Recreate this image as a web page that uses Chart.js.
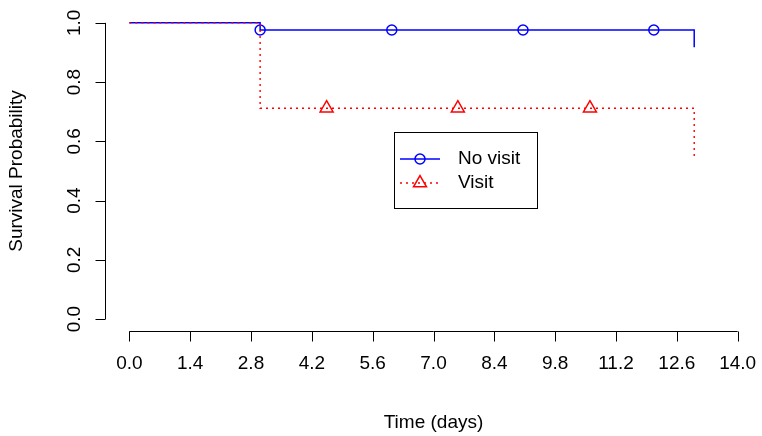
<!DOCTYPE html>
<html>
<head>
<meta charset="utf-8">
<script src="https://cdn.jsdelivr.net/npm/chart.js@4.4.1/dist/chart.umd.min.js"></script>
<style>
  html, body { margin: 0; padding: 0; background: #fff; }
  #wrap { width: 762px; height: 436px; }
</style>
</head>
<body>
<div id="wrap"><canvas id="grafico" width="762" height="436"></canvas></div>
<script>
// Dados (curvas de Kaplan-Meier)
const noVisitTimes = [0, 3.01, 13];
const noVisitSurv = [1, 0.976, 0.918];
const noVisitCensorTimes = [3.01, 6.04, 9.06, 12.07];
const noVisitCensorSurv = [0.976, 0.976, 0.976, 0.976];

const visitTimes = [0, 3.01, 13];
const visitSurv = [1, 0.712, 0.545];
const visitCensorTimes = [4.54, 7.56, 10.6];
const visitCensorSurv = [0.712, 0.712, 0.712];

const xTicks = [0, 1.4, 2.8, 4.2, 5.6, 7.0, 8.4, 9.8, 11.2, 12.6, 14.0];
const yTicks = [0, 0.2, 0.4, 0.6, 0.8, 1.0];
const seriesNames = ['No visit', 'Visit'];

const BLUE = '#0000ff';
const RED = '#ff0000';
const FONT = '19px "Liberation Sans", Arial, sans-serif';

function pares(xs, ys) {
  return xs.map((x, i) => ({ x: x, y: ys[i] }));
}

// Eixos, rótulos e legenda no estilo R base
const eixosR = {
  id: 'eixosR',
  afterDraw(chart) {
    const ctx = chart.ctx;
    const sx = chart.scales.x;
    const sy = chart.scales.y;
    const area = chart.chartArea;
    ctx.save();
    ctx.strokeStyle = '#000';
    ctx.fillStyle = '#000';
    ctx.lineWidth = 1;
    ctx.font = FONT;

    // eixo x
    const yAx = Math.round(area.bottom) + 0.5;
    ctx.beginPath();
    ctx.moveTo(sx.getPixelForValue(xTicks[0]), yAx);
    ctx.lineTo(sx.getPixelForValue(xTicks[xTicks.length - 1]), yAx);
    xTicks.forEach(t => {
      const px = Math.round(sx.getPixelForValue(t)) + 0.5;
      ctx.moveTo(px, yAx);
      ctx.lineTo(px, yAx + 10);
    });
    ctx.stroke();
    ctx.textAlign = 'center';
    ctx.textBaseline = 'middle';
    xTicks.forEach(t => {
      ctx.fillText(t.toFixed(1), sx.getPixelForValue(t), yAx + 32);
    });
    ctx.fillText('Time (days)', (area.left + area.right) / 2, 423);

    // eixo y
    const xAx = Math.round(area.left) + 0.5;
    ctx.beginPath();
    ctx.moveTo(xAx, sy.getPixelForValue(yTicks[0]));
    ctx.lineTo(xAx, sy.getPixelForValue(yTicks[yTicks.length - 1]));
    yTicks.forEach(t => {
      const py = Math.round(sy.getPixelForValue(t)) + 0.5;
      ctx.moveTo(xAx, py);
      ctx.lineTo(xAx - 10, py);
    });
    ctx.stroke();
    yTicks.forEach(t => {
      ctx.save();
      ctx.translate(75, sy.getPixelForValue(t));
      ctx.rotate(-Math.PI / 2);
      ctx.fillText(t.toFixed(1), 0, 0);
      ctx.restore();
    });
    ctx.save();
    ctx.translate(17, (area.top + area.bottom) / 2);
    ctx.rotate(-Math.PI / 2);
    ctx.fillText('Survival Probability', 0, 0);
    ctx.restore();

    // legenda
    ctx.strokeRect(394.5, 132.5, 143, 76);
    const linhas = [
      { y: 159, cor: BLUE, dash: [], estilo: 'circle' },
      { y: 183, cor: RED, dash: [2, 4], estilo: 'triangle' }
    ];
    linhas.forEach((l, i) => {
      ctx.save();
      ctx.strokeStyle = l.cor;
      ctx.fillStyle = 'rgba(0,0,0,0)';
      ctx.lineWidth = 1.5;
      ctx.setLineDash(l.dash);
      ctx.beginPath();
      ctx.moveTo(400, l.y);
      ctx.lineTo(440, l.y);
      ctx.stroke();
      ctx.setLineDash([]);
      Chart.helpers.drawPoint(ctx, {
        pointStyle: l.estilo,
        radius: l.estilo === 'circle' ? 5 : 7.5,
        borderWidth: 1.5,
        rotation: 0
      }, 420, l.y);
      ctx.restore();
      ctx.textAlign = 'left';
      ctx.fillText(seriesNames[i], 458, l.y);
    });
    ctx.restore();
  }
};

const ctxGrafico = document.getElementById('grafico').getContext('2d');
new Chart(ctxGrafico, {
  type: 'scatter',
  data: {
    datasets: [
      {
        label: 'Visit',
        data: pares(visitTimes, visitSurv),
        showLine: true,
        stepped: 'before',
        borderColor: RED,
        borderWidth: 1.4,
        borderDash: [2, 4],
        pointRadius: 0,
        fill: false,
        order: 0
      },
      {
        label: 'Visit (censored)',
        data: pares(visitCensorTimes, visitCensorSurv),
        showLine: false,
        pointStyle: 'triangle',
        pointRadius: 7.5,
        borderColor: RED,
        backgroundColor: 'rgba(0,0,0,0)',
        borderWidth: 1.5,
        order: 0
      },
      {
        label: 'No visit',
        data: pares(noVisitTimes, noVisitSurv),
        showLine: true,
        stepped: 'before',
        borderColor: BLUE,
        borderWidth: 1.5,
        pointRadius: 0,
        fill: false,
        order: 1
      },
      {
        label: 'No visit (censored)',
        data: pares(noVisitCensorTimes, noVisitCensorSurv),
        showLine: false,
        pointStyle: 'circle',
        pointRadius: 5,
        borderColor: BLUE,
        backgroundColor: 'rgba(0,0,0,0)',
        borderWidth: 1.5,
        order: 1
      }
    ]
  },
  options: {
    responsive: false,
    animation: false,
    events: [],
    layout: { autoPadding: false, padding: { left: 105, right: 0, top: 11, bottom: 105 } },
    plugins: {
      legend: { display: false },
      tooltip: { enabled: false }
    },
    scales: {
      x: { type: 'linear', min: -0.56, max: 14.56, display: false },
      y: { type: 'linear', min: -0.04, max: 1.04, display: false }
    }
  },
  plugins: [eixosR]
});
</script>
</body>
</html>
